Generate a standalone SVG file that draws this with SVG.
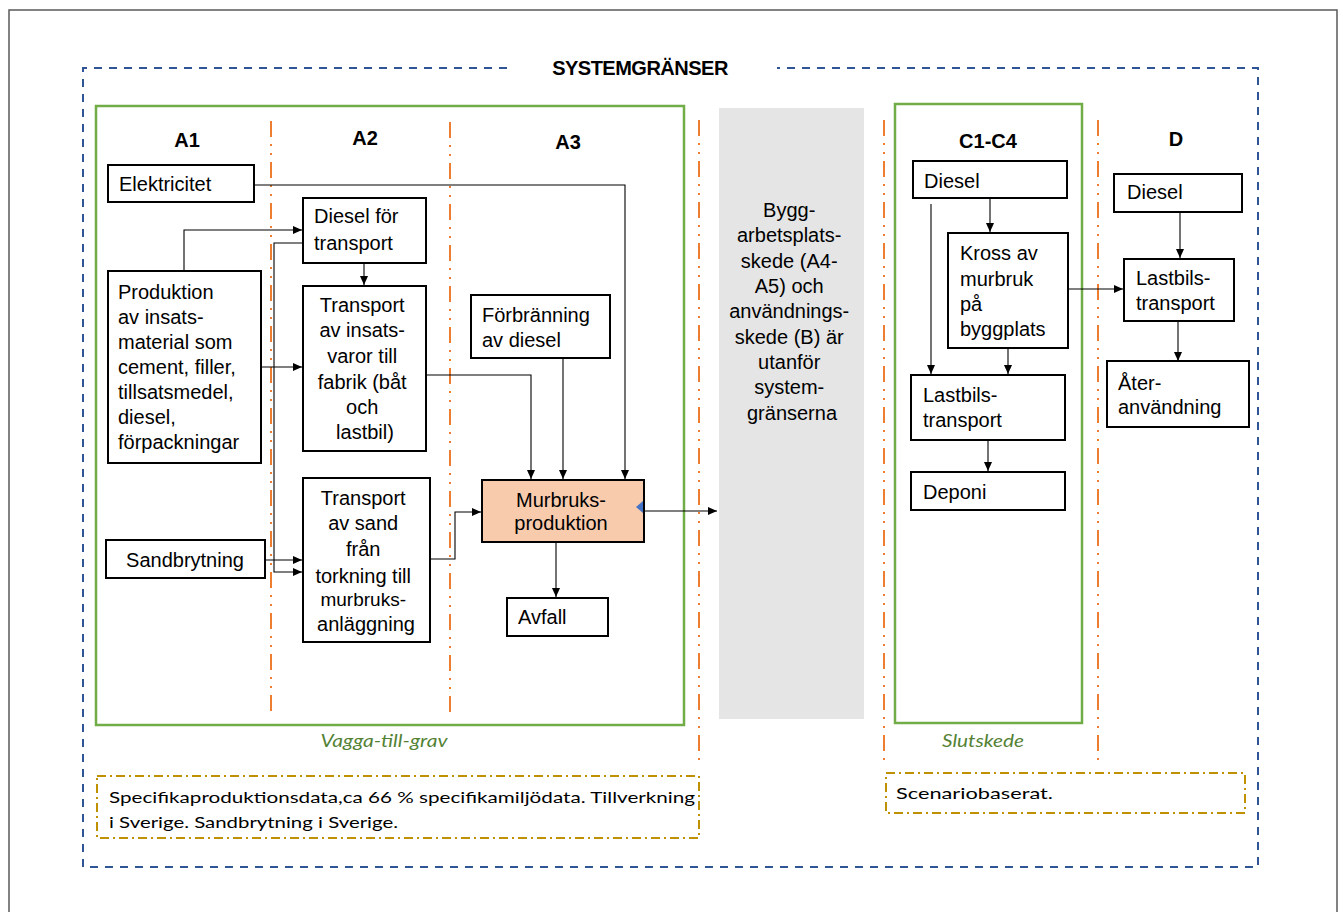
<svg xmlns="http://www.w3.org/2000/svg" width="1343" height="912" viewBox="0 0 1343 912">
<style>
.box{fill:#fff;stroke:#000;stroke-width:2}
.t{font-family:"Liberation Sans",Arial,sans-serif;font-size:20px;fill:#000}
.c{text-anchor:middle}
.h{font-family:"Liberation Sans",Arial,sans-serif;font-size:20px;font-weight:bold;fill:#000;text-anchor:middle}
.or{stroke:#ED7D31;stroke-width:2;stroke-dasharray:16 7 2 7 2 7;fill:none}
.gr{fill:none;stroke:#70AD47;stroke-width:2.5}
.gold{fill:none;stroke:#BF9000;stroke-width:2;stroke-dasharray:9 4 2 4}
.lab{font-family:Lato,"Open Sans",sans-serif;font-style:italic;font-size:17px;fill:#548235;text-anchor:middle}
.note{font-family:Lato,"Open Sans",sans-serif;font-size:16px;fill:#000}
.cn{fill:none;stroke:#000;stroke-width:1.1}
</style>
<defs>
<marker id="arr" markerWidth="10" markerHeight="10" refX="9" refY="5" orient="auto" markerUnits="userSpaceOnUse">
<path d="M0,1 L9,5 L0,9 z" fill="#000"/>
</marker>
</defs>
<rect width="1343" height="912" fill="#fff"/>
<rect x="9" y="10" width="1328" height="912" fill="none" stroke="#595959" stroke-width="1.5"/>

<g id="system-boundary">
<path d="M507,68 H83 V867 H1258 V68 H777" fill="none" stroke="#2F5597" stroke-width="2" stroke-dasharray="8 7"/>
<text x="640" y="75" class="h" letter-spacing="-0.5">SYSTEMGRÄNSER</text>
</g>

<g id="stage-backgrounds">
<rect x="719" y="108" width="145" height="611" fill="#E5E5E5"/>
<rect x="96" y="106" width="588" height="619" class="gr"/>
<rect x="895" y="104" width="187" height="619" class="gr"/>
<line x1="271" y1="121" x2="271" y2="718" class="or"/>
<line x1="450" y1="122" x2="450" y2="718" class="or"/>
<line x1="699" y1="120" x2="699" y2="762" class="or"/>
<line x1="884" y1="120" x2="884" y2="762" class="or"/>
<line x1="1098" y1="120" x2="1098" y2="765" class="or"/>
<text x="187" y="147" class="h">A1</text>
<text x="365" y="145" class="h">A2</text>
<text x="568" y="149" class="h">A3</text>
<text x="988" y="148" class="h">C1-C4</text>
<text x="1176" y="146" class="h">D</text>
<text x="384" y="747" class="lab" textLength="127" lengthAdjust="spacingAndGlyphs">Vagga-till-grav</text>
<text x="983" y="747" class="lab" textLength="82" lengthAdjust="spacingAndGlyphs">Slutskede</text>
</g>

<g id="outside-note">
<text class="t c" x="792">
<tspan x="792" y="217">Bygg-</tspan>
<tspan x="792" y="242">arbetsplats-</tspan>
<tspan x="792" y="268">skede (A4-</tspan>
<tspan x="792" y="293">A5) och</tspan>
<tspan x="792" y="318">användnings-</tspan>
<tspan x="792" y="344">skede (B) är</tspan>
<tspan x="792" y="369">utanför</tspan>
<tspan x="792" y="394">system-</tspan>
<tspan x="792" y="420">gränserna</tspan>
</text>
</g>

<g id="connectors">
<path class="cn" d="M254,185 H625 V479" marker-end="url(#arr)"/>
<path class="cn" d="M184,272 V230 H302" marker-end="url(#arr)"/>
<path class="cn" d="M303,243 H274 V572 H302" marker-end="url(#arr)"/>
<path class="cn" d="M364,263 V285" marker-end="url(#arr)"/>
<path class="cn" d="M261,367 H302" marker-end="url(#arr)"/>
<path class="cn" d="M426,375 H531 V479" marker-end="url(#arr)"/>
<path class="cn" d="M563,358 V479" marker-end="url(#arr)"/>
<path class="cn" d="M265,560 H302" marker-end="url(#arr)"/>
<path class="cn" d="M430,559 H455 V512 H481" marker-end="url(#arr)"/>
<path class="cn" d="M556,542 V597" marker-end="url(#arr)"/>
<path class="cn" d="M644,511 H717" marker-end="url(#arr)"/>
<path class="cn" d="M931,204 V374" marker-end="url(#arr)"/>
<path class="cn" d="M990,198 V232" marker-end="url(#arr)"/>
<path class="cn" d="M1008,348 V374" marker-end="url(#arr)"/>
<path class="cn" d="M1068,289 H1123" marker-end="url(#arr)"/>
<path class="cn" d="M988,440 V471" marker-end="url(#arr)"/>
<path class="cn" d="M1180,212 V258" marker-end="url(#arr)"/>
<path class="cn" d="M1178,321 V361" marker-end="url(#arr)"/>
</g>

<g id="elektricitet">
<rect x="108" y="165" width="146" height="37" class="box"/>
<text x="119" y="191" class="t">Elektricitet</text>
</g>
<g id="diesel-transport">
<rect x="303" y="198" width="123" height="65" class="box"/>
<text class="t"><tspan x="314" y="223">Diesel för</tspan><tspan x="314" y="250">transport</tspan></text>
</g>
<g id="produktion">
<rect x="108" y="271" width="153" height="192" class="box"/>
<text class="t">
<tspan x="118" y="299">Produktion</tspan>
<tspan x="118" y="324">av insats-</tspan>
<tspan x="118" y="349">material som</tspan>
<tspan x="118" y="374">cement, filler,</tspan>
<tspan x="118" y="399">tillsatsmedel,</tspan>
<tspan x="118" y="424">diesel,</tspan>
<tspan x="118" y="449">förpackningar</tspan>
</text>
</g>
<g id="transport-insatsvaror">
<rect x="303" y="286" width="123" height="165" class="box"/>
<text class="t c">
<tspan x="365" y="312">Transport</tspan>
<tspan x="365" y="337">av insats-</tspan>
<tspan x="365" y="363">varor till</tspan>
<tspan x="365" y="389">fabrik (båt</tspan>
<tspan x="365" y="414">och</tspan>
<tspan x="365" y="439">lastbil)</tspan>
</text>
</g>
<g id="forbranning">
<rect x="471" y="295" width="139" height="63" class="box"/>
<text class="t"><tspan x="482" y="322">Förbränning</tspan><tspan x="482" y="347">av diesel</tspan></text>
</g>
<g id="sandbrytning">
<rect x="106" y="540" width="159" height="38" class="box"/>
<text x="185" y="567" class="t c">Sandbrytning</text>
</g>
<g id="transport-sand">
<rect x="303" y="478" width="127" height="164" class="box"/>
<text class="t c">
<tspan x="366" y="505">Transport</tspan>
<tspan x="366" y="530">av sand</tspan>
<tspan x="366" y="556">från</tspan>
<tspan x="366" y="583">torkning till</tspan>
<tspan x="366" y="606" font-size="19">murbruks-</tspan>
<tspan x="366" y="631">anläggning</tspan>
</text>
</g>
<g id="murbruksproduktion">
<rect x="482" y="480" width="162" height="62" fill="#F8CBAD" stroke="#000" stroke-width="2"/>
<text class="t c"><tspan x="561" y="507">Murbruks-</tspan><tspan x="561" y="530">produktion</tspan></text>
<polygon points="636,507 643,501 643,513" fill="#4472C4"/>
</g>
<g id="avfall">
<rect x="507" y="598" width="101" height="38" class="box"/>
<text x="518" y="624" class="t">Avfall</text>
</g>

<g id="c-diesel">
<rect x="913" y="161" width="154" height="37" class="box"/>
<text x="924" y="188" class="t">Diesel</text>
</g>
<g id="kross">
<rect x="948" y="233" width="120" height="115" class="box"/>
<text class="t">
<tspan x="960" y="260">Kross av</tspan>
<tspan x="960" y="286">murbruk</tspan>
<tspan x="960" y="311">på</tspan>
<tspan x="960" y="336">byggplats</tspan>
</text>
</g>
<g id="c-lastbil">
<rect x="911" y="375" width="154" height="65" class="box"/>
<text class="t"><tspan x="923" y="402">Lastbils-</tspan><tspan x="923" y="427">transport</tspan></text>
</g>
<g id="deponi">
<rect x="911" y="472" width="154" height="38" class="box"/>
<text x="923" y="499" class="t">Deponi</text>
</g>
<g id="d-diesel">
<rect x="1114" y="174" width="128" height="38" class="box"/>
<text x="1127" y="199" class="t" font-size="18">Diesel</text>
</g>
<g id="d-lastbil">
<rect x="1124" y="259" width="110" height="62" class="box"/>
<text class="t"><tspan x="1136" y="285">Lastbils-</tspan><tspan x="1136" y="310">transport</tspan></text>
</g>
<g id="ateranvandning">
<rect x="1107" y="361" width="142" height="66" class="box"/>
<text class="t"><tspan x="1118" y="390">Åter-</tspan><tspan x="1118" y="414">användning</tspan></text>
</g>

<g id="note-a">
<rect x="97" y="776" width="602" height="62" class="gold"/>
<text class="note"><tspan x="109" y="803" textLength="586" lengthAdjust="spacingAndGlyphs">Specifikaproduktionsdata,ca 66 % specifikamiljödata. Tillverkning</tspan><tspan x="109" y="828" textLength="289" lengthAdjust="spacingAndGlyphs">i Sverige. Sandbrytning i Sverige.</tspan></text>
</g>
<g id="note-c">
<rect x="886" y="773" width="359" height="40" class="gold"/>
<text x="896" y="799" class="note" textLength="157" lengthAdjust="spacingAndGlyphs">Scenariobaserat.</text>
</g>
</svg>
